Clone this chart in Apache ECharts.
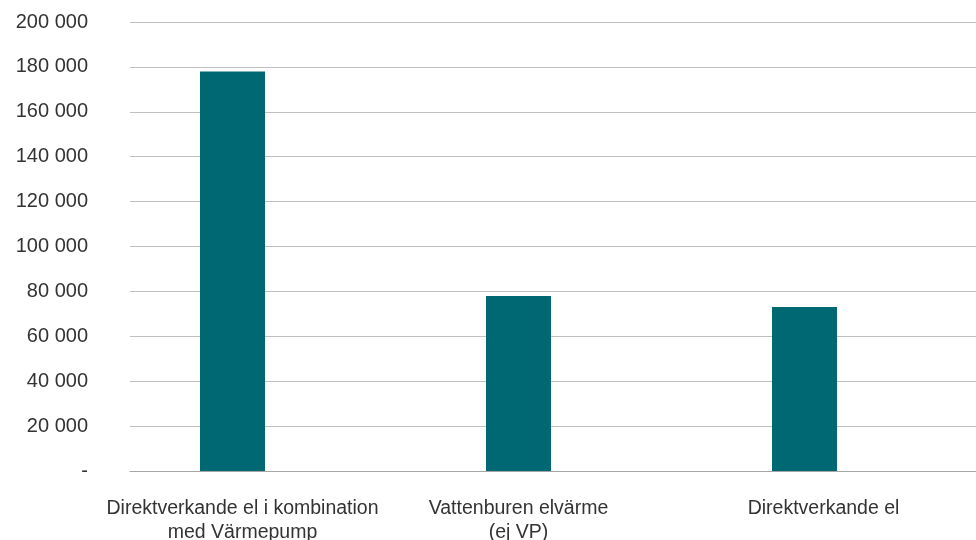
<!DOCTYPE html>
<html><head><meta charset="utf-8">
<script src="https://cdn.jsdelivr.net/npm/echarts@6/dist/echarts.min.js"></script>
<style>html,body{margin:0;padding:0;background:#fff}#c{width:976px;height:540px}</style>
</head><body><div id="c"></div>
<script>
const categories = ['Direktverkande el i kombination\nmed Värmepump', 'Vattenburen elvärme\n(ej VP)', 'Direktverkande el'];
const values = [178000, 78000, 73000];
const yMin = 0, yMax = 200000, yStep = 20000;

const labelPads = [[0, 0, 0, 20], [0, 0, 0, 0], [0, 0, 0, 38]];
const fmt = v => v === 0 ? '-' : String(v).replace(/\B(?=(\d{3})+(?!\d))/g, ' ');
const font = 'Liberation Sans, Arial, sans-serif';
const chart = echarts.init(document.getElementById('c'));
chart.setOption({
  animation: false,
  grid: [
    {left: 130, right: 0, top: 22, bottom: 69, outerBoundsMode: 'none', containLabel: false},
    {left: 89.5, right: 28.5, top: 22, bottom: 69, outerBoundsMode: 'none', containLabel: false}
  ],
  xAxis: [
    {gridIndex: 0, type: 'value', show: true, axisLabel: {show: false}, splitLine: {show: false}, axisTick: {show: false},
     axisLine: {show: true, lineStyle: {color: '#a6a6a6', width: 1}}},
    {gridIndex: 1, type: 'category',
     data: categories.map((c, i) => ({value: c, textStyle: {padding: labelPads[i]}})),
     axisLine: {show: false}, axisTick: {show: false},
     axisLabel: {color: '#333333', fontSize: 19.5, fontFamily: font, margin: 26, lineHeight: 24, interval: 0}}
  ],
  yAxis: [
    {gridIndex: 0, type: 'value', min: yMin, max: yMax, interval: yStep,
     axisLine: {show: false}, axisTick: {show: false},
     axisLabel: {color: '#333333', fontSize: 20, fontFamily: font, margin: 42, formatter: fmt},
     splitLine: {lineStyle: {color: '#bfbfbf', width: 1}}},
    {gridIndex: 1, type: 'value', min: yMin, max: yMax, interval: yStep, show: false, splitLine: {show: false}}
  ],
  series: [{
    type: 'bar', xAxisIndex: 1, yAxisIndex: 1, data: values, barWidth: 65,
    itemStyle: {color: '#006872'}
  }]
});
</script></body></html>
